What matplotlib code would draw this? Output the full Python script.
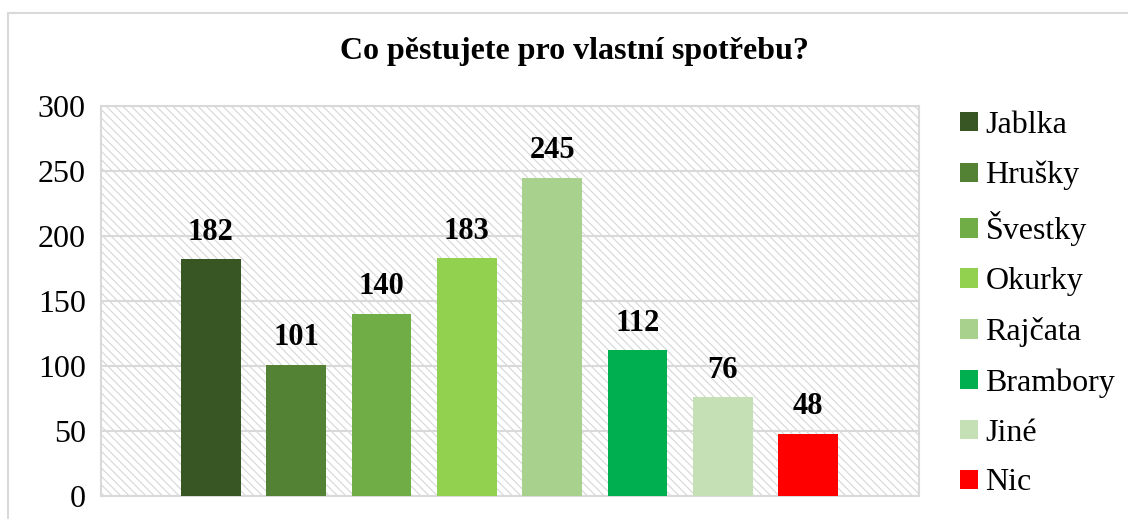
import matplotlib
matplotlib.use("Agg")
import matplotlib.pyplot as plt
from matplotlib.patches import Rectangle

categories = ["Jablka", "Hrušky", "Švestky", "Okurky", "Rajčata", "Brambory", "Jiné", "Nic"]
values = [182, 101, 140, 183, 245, 112, 76, 48]
colors = ["#375623", "#548235", "#70AD47", "#92D050", "#A9D18E", "#00B050", "#C5E0B4", "#FF0000"]
yticks = [0, 50, 100, 150, 200, 250, 300]
title = "Co pěstujete pro vlastní spotřebu?"

plt.rcParams['font.family'] = ['Liberation Serif', 'DejaVu Serif']
plt.rcParams['hatch.linewidth'] = 0.8

W, H = 1128, 519
fig = plt.figure(figsize=(W / 100, H / 100), dpi=100)
fig.patch.set_facecolor("white")

# outer chart border
fig.add_artist(Rectangle((8 / W, -0.1), 1.2, (H - 13) / H + 0.1, transform=fig.transFigure,
                         fill=False, edgecolor="#D9D9D9", linewidth=1.5))

ax = fig.add_axes([101 / W, (H - 496) / H, 818 / W, 390 / H])
ax.set_facecolor("white")
ax.add_patch(Rectangle((0, 0), 1, 1, transform=ax.transAxes, facecolor="white",
                       edgecolor="#D6D6D6", hatch="\\" * 4, linewidth=0, zorder=0))

xs = list(range(len(categories)))
bars = ax.bar(xs, values, width=0.70, color=colors, zorder=3)
for b, lab in zip(bars, categories):
    b.set_label(lab)

ax.set_xlim(-1.285, 8.297)
ax.set_ylim(0, 300)
ax.set_yticks(yticks)
ax.set_xticks([])
ax.yaxis.grid(True, color="#D9D9D9", linewidth=1.5, zorder=1)
ax.set_axisbelow(True)
ax.tick_params(axis="y", length=0, pad=11, labelsize=23)
for s in ax.spines.values():
    s.set_color("#D9D9D9")
    s.set_linewidth(1.5)

ax.bar_label(bars, labels=[str(v) for v in values], padding=9, fontsize=22,
             fontweight="bold", zorder=4)

fig.text(574 / W, 1 - 52 / H, title, ha="center", va="center", fontsize=23, fontweight="bold")

fig.legend(handles=list(bars), labels=categories, loc="upper left",
           bbox_to_anchor=(960 / W, 1 - 111 / H), frameon=False, fontsize=23,
           handlelength=0.55, handleheight=0.55, handletextpad=0.25, labelspacing=0.655,
           borderaxespad=0, borderpad=0)

fig.savefig("out.png", dpi=100)
